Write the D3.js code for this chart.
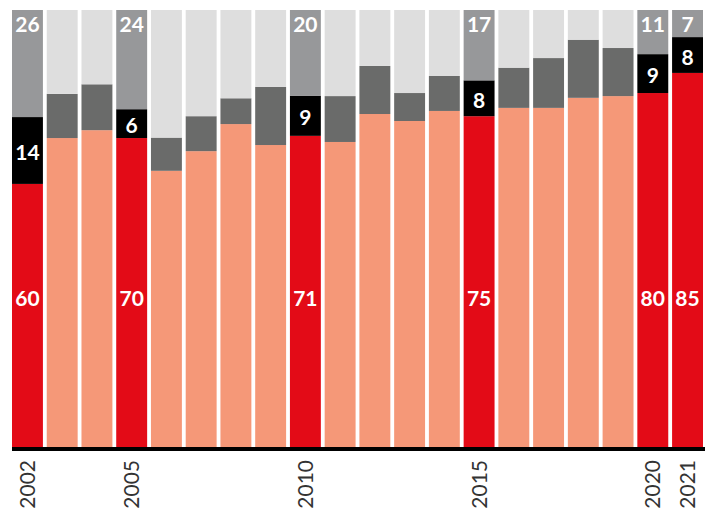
<!DOCTYPE html>
<html><head><meta charset="utf-8">
<script src="https://cdn.jsdelivr.net/npm/d3@7"></script>
<style>body{margin:0;background:#fff}svg{display:block}</style>
</head><body>
<svg id="c" width="712" height="508"></svg>
<script>
const years = [2002,2003,2004,2005,2006,2007,2008,2009,2010,2011,2012,2013,2014,2015,2016,2017,2018,2019,2020,2021];
const share1 = [60.2,70.7,72.5,70.7,63.2,67.7,73.9,69.1,71.2,69.8,76.2,74.6,76.9,75.7,77.6,77.6,79.9,80.3,81.0,85.6];
const share2 = [15.3,10.1,10.5,6.6,7.6,8.0,5.9,13.3,9.2,10.5,11.0,6.4,8.0,8.2,9.2,11.4,13.3,11.0,8.9,8.2];
const share3 = [24.5,19.2,17.0,22.7,29.2,24.3,20.2,17.6,19.6,19.7,12.8,19.0,15.1,16.1,13.2,11.0,6.8,8.7,10.1,6.2];
const highlightYears = [2002,2005,2010,2015,2020,2021];
const label1 = ["60","70","71","75","80","85"];
const label2 = ["14","6","9","8","9","8"];
const label3 = ["26","24","20","17","11","7"];
const tickYears = [2002,2005,2010,2015,2020,2021];

const svg = d3.select("#c");
const x = d3.scaleBand().domain(years).range([12,703]).paddingInner(0.11).paddingOuter(0);
const y = d3.scaleLinear().domain([0,100]).range([447,10]);

const hiCol = ["#e30b17","#000000","#97989a"];
const loCol = ["#f59878","#6a6b6a","#dedede"];

const rows = years.map((yr,i)=>({year:yr, s:[share1[i],share2[i],share3[i]], hi: highlightYears.includes(yr)}));
const series = [0,1,2];
rows.forEach(r=>{
  let acc = 0;
  r.seg = r.s.map(v=>{ const a=[acc, acc+v]; acc+=v; return a; });
  // normalize top to 100
  r.seg[2][1] = Math.max(r.seg[2][1], 100);
});

const g = svg.append("g");
rows.forEach(r=>{
  series.forEach(k=>{
    const [a,b] = r.seg[k];
    g.append("rect")
      .attr("x", x(r.year)).attr("width", x.bandwidth())
      .attr("y", y(Math.min(b,100))).attr("height", y(a)-y(Math.min(b,100)))
      .attr("fill", r.hi ? hiCol[k] : loCol[k]);
  });
});

// labels
const lab = svg.append("g").attr("font-family","Lato, 'Open Sans', sans-serif").attr("font-weight","bold")
  .attr("font-size",21).attr("fill","#fff").attr("text-anchor","middle");
highlightYears.forEach((yr,j)=>{
  const r = rows[years.indexOf(yr)];
  const cx = x(yr)+x.bandwidth()/2;
  lab.append("text").attr("x",cx).attr("y",298).attr("dy","0.36em").text(label1[j]);
  const m = (r.seg[1][0]+r.seg[1][1])/2;
  lab.append("text").attr("x",cx).attr("y",y(m)+2).attr("dy","0.36em").text(label2[j]);
  lab.append("text").attr("x",cx).attr("y",24).attr("dy","0.36em").text(label3[j]);
});

// axis baseline
svg.append("rect").attr("x",12).attr("y",447).attr("width",693).attr("height",4).attr("fill","#000");

// year ticks
const ax = svg.append("g").attr("font-family","Lato, 'Open Sans', sans-serif").attr("font-size",21).attr("fill","#333");
tickYears.forEach(yr=>{
  const cx = x(yr)+x.bandwidth()/2;
  ax.append("text").attr("transform",`translate(${cx},460) rotate(-90)`)
    .attr("text-anchor","end").attr("dy","0.36em").text(yr);
});
</script>
</body></html>
